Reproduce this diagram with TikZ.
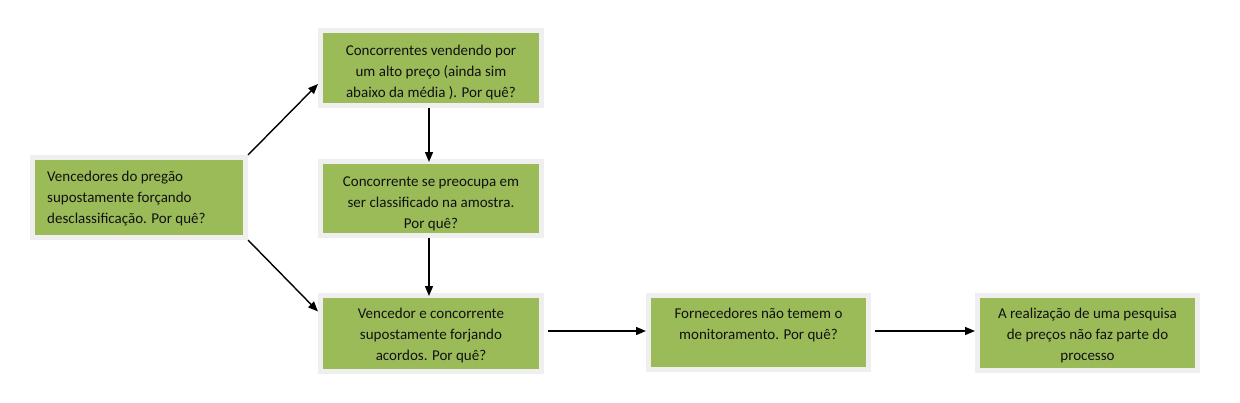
\documentclass[tikz,border=0pt]{standalone}
\usepackage{fontspec}
\setmainfont{Carlito}
\usetikzlibrary{arrows.meta,backgrounds,calc}
\definecolor{boxgreen}{HTML}{9BBB59}
\definecolor{frameg}{HTML}{EFEFEF}
\definecolor{shadowc}{HTML}{A3AB90}
\definecolor{txt}{HTML}{111111}
\tikzset{
  gbox/.style={fill=boxgreen, draw=frameg, line width=5pt, inner sep=0pt},
  lbl/.style={inner sep=0pt, text=txt, font=\fontsize{15}{21}\selectfont, anchor=base},
  arr/.style={line width=1.4pt, -{Triangle[length=10pt,width=8pt]}}
}
\newcommand{\shadowbox}[1]{%
  \begin{scope}[on background layer]
  \fill[shadowc] ($(#1.south west)+(3,3)$) rectangle ($(#1.north east)+(3,3)$);
  \end{scope}}
\begin{document}
\begin{tikzpicture}[x=1pt,y=-1pt]
\useasboundingbox[fill=white] (0,0) rectangle (1240,402);
% boxes (minimum size = green size + 5)
\node[gbox, minimum width=213pt, minimum height=80pt] (b1) at (139,197.5) {};
\node[gbox, minimum width=221pt, minimum height=75pt] (b2) at (431,68) {};
\node[gbox, minimum width=221pt, minimum height=74pt] (b3) at (431,198.5) {};
\node[gbox, minimum width=221pt, minimum height=76pt] (b4) at (431,333.5) {};
\node[gbox, minimum width=220pt, minimum height=74pt] (b5) at (758.5,332.5) {};
\node[gbox, minimum width=220pt, minimum height=75pt] (b6) at (1087.5,333) {};
\shadowbox{b1}\shadowbox{b2}\shadowbox{b3}\shadowbox{b4}\shadowbox{b5}\shadowbox{b6}
% labels (anchor = baseline of last line)
\node[lbl, anchor=base west, align=left] (t1) at (47,223) {Vencedores do pregão\\supostamente forçando\\desclassificação. Por quê?};
\node[lbl, align=center] (t2) at (431,97) {Concorrentes vendendo por\\um alto preço (ainda sim\\abaixo da média ). Por quê?};
\node[lbl, align=center] (t3) at (431,228) {Concorrente se preocupa em\\ser classificado na amostra.\\Por quê?};
\node[lbl, align=center] (t4) at (431,360) {Vencedor e concorrente\\supostamente forjando\\acordos. Por quê?};
\node[lbl, align=center] (t5) at (758.5,339) {Fornecedores não temem o\\monitoramento. Por quê?};
\node[lbl, align=center] (t6) at (1087.5,360) {A realização de uma pesquisa\\de preços não faz parte do\\processo};
% connectors
\draw[arr] (b1.north east) -- ([yshift=-16pt]b2.west);
\draw[arr] (b1.south east) -- ([yshift=22pt]b4.west);
\draw[arr] ([xshift=-2pt]b2.south) -- ([xshift=-2pt,yshift=-3pt]b3.north);
\draw[arr] ([xshift=-2pt]b3.south) -- ([xshift=-2pt,yshift=-3pt]b4.north);
\draw[arr, shorten <=4pt] (b4.east |- 0,331) -- (b5.west |- 0,331);
\draw[arr, shorten <=4pt] (b5.east |- 0,331) -- (b6.west |- 0,331);
\end{tikzpicture}
\end{document}
